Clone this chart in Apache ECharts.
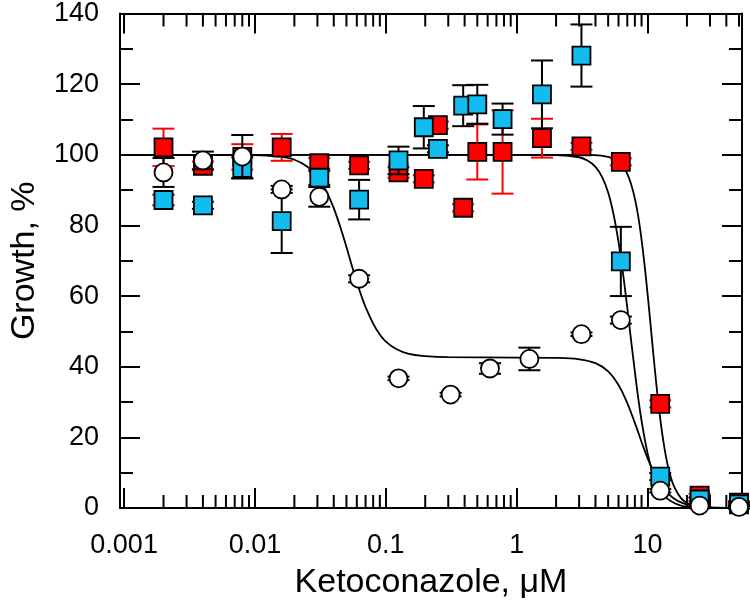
<!DOCTYPE html>
<html>
<head>
<meta charset="utf-8">
<script src="https://cdn.jsdelivr.net/npm/echarts@6/dist/echarts.min.js"></script>
<style>html,body{margin:0;padding:0;background:#fff}#c{width:750px;height:605px}</style>
</head>
<body>
<div id="c"></div>
<script>
// ---- data ----
var xTickLabels = ['0.001', '0.01', '0.1', '1', '10'];
var yTickLabels = ['0', '20', '40', '60', '80', '100', '120', '140'];
var minorXTicks = [0.002,0.003,0.004,0.005,0.006,0.007,0.008,0.009,
                   0.02,0.03,0.04,0.05,0.06,0.07,0.08,0.09,
                   0.2,0.3,0.4,0.5,0.6,0.7,0.8,0.9,
                   2,3,4,5,6,7,8,9,
                   20,30,40,50];

var redX   = [0.002, 0.004, 0.008, 0.016, 0.031, 0.0625, 0.125, 0.195, 0.25, 0.39, 0.5, 0.78, 1.56, 3.125, 6.25, 12.5, 25, 50];
var redY   = [102.1, 96.9, 99.4, 102.1, 97.6, 97, 95, 93.2, 108.4, 85, 100.8, 100.8, 104.7, 102.4, 98, 29.5, 3.5, 1.5];
var redErr = [5.3, 1.2, 3.6, 3.8, 1.5, 1, 1.5, 1, 1, 1, 7.8, 11.8, 5.5, 1, 1, 1, 0.5, 0.5];

var blueX   = [0.002, 0.004, 0.008, 0.016, 0.031, 0.0625, 0.125, 0.195, 0.25, 0.39, 0.5, 0.78, 1.56, 3.125, 6.25, 12.5, 25, 50];
var blueY   = [87.2, 85.7, 96.3, 81.2, 93.5, 87.3, 98.4, 107.8, 101.7, 113.9, 114.3, 110.1, 117.1, 128.1, 69.8, 8.9, 2.4, 1.0];
var blueErr = [1.5, 1, 3, 9, 2, 5.6, 3.9, 6, 1, 5.8, 5.5, 4.4, 9.6, 8.8, 9.8, 1, 0.5, 0.5];

var circX   = [0.002, 0.004, 0.008, 0.016, 0.031, 0.0625, 0.125, 0.3125, 0.625, 1.25, 3.125, 6.25, 12.5, 25, 50];
var circY   = [95, 98.4, 99.5, 90.2, 88.1, 64.9, 36.7, 32.1, 39.5, 42.2, 49.2, 53.2, 4.9, 0.7, 0.3];
var circErr = [4.1, 2.5, 6.1, 1, 2.8, 1, 0.5, 0.5, 1.5, 3.2, 0.5, 1, 0.5, 0.5, 0.5];

// fitted curves
var redFitX = [0.00093, 0.01, 0.1, 1, 3, 4, 5, 5.5, 6, 6.5, 7, 7.5, 8, 8.5, 9, 9.5, 10, 10.5, 11, 11.5, 12, 12.5, 13, 14, 15, 16, 18, 20, 23, 27, 35, 52.7];
var redFitY = [100, 100, 100, 100, 100, 99.9, 99.4, 98.9, 98.0, 96.7, 94.6, 91.6, 87.6, 82.4, 76.0, 68.6, 60.7, 52.6, 44.7, 37.4, 30.9, 25.3, 20.6, 13.5, 8.9, 6.0, 2.8, 1.4, 0.5, 0.2, 0, 0];

var blueFitX = [0.00093, 0.01, 0.1, 1, 2, 3, 3.5, 4, 4.5, 5, 5.5, 6, 6.5, 7, 7.5, 8, 8.5, 9, 10, 11, 12, 13, 14, 16, 18, 21, 25, 30, 52.7];
var blueFitY = [100, 100, 100, 100, 99.9, 99.3, 98.3, 96.6, 93.7, 89.3, 83.1, 75.3, 66.3, 56.7, 47.2, 38.6, 31.0, 24.7, 15.5, 9.8, 6.3, 4.2, 2.8, 1.4, 0.7, 0.3, 0.1, 0, 0];

var circFitX = [0.00093, 0.01, 0.015, 0.02, 0.025, 0.03, 0.035, 0.04, 0.045, 0.05, 0.055, 0.06, 0.065, 0.07, 0.08, 0.09, 0.1, 0.12, 0.15, 0.2, 0.3, 1, 2, 3, 4, 5, 6, 7, 8, 9, 10, 11, 12, 13, 14, 16, 18, 21, 25, 30, 40, 52.7];
var circFitY = [100, 99.9, 99.5, 98.6, 96.7, 93.9, 89.8, 84.9, 79.4, 73.9, 68.6, 64.0, 60.1, 56.9, 52.2, 49.1, 47.1, 45.0, 43.6, 43.0, 42.7, 42.6, 42.5, 42.1, 41.0, 38.7, 34.8, 29.7, 24.1, 18.7, 14.1, 10.6, 7.9, 5.9, 4.5, 2.6, 1.6, 0.85, 0.4, 0.2, 0.05, 0];

// ---- helpers ----
function zip2(a, b) { return a.map(function (v, i) { return [v, b[i]]; }); }
function zip3(a, b, c) { return a.map(function (v, i) { return [v, b[i], c[i]]; }); }

var FONT = 'Liberation Sans, Arial, Helvetica, sans-serif';
var XMIN = 0.00093, XMAX = 52.7, YMIN = 0, YMAX = 140;

function errRender(color) {
  return function (params, api) {
    var x = api.value(0), y = api.value(1), e = api.value(2);
    var top = api.coord([x, y + e]);
    var bot = api.coord([x, y - e]);
    var hw = 11;
    var st = { stroke: color, lineWidth: 2 };
    return {
      type: 'group',
      children: [
        { type: 'line', shape: { x1: top[0], y1: top[1], x2: bot[0], y2: bot[1] }, style: st },
        { type: 'line', shape: { x1: top[0] - hw, y1: top[1], x2: top[0] + hw, y2: top[1] }, style: st },
        { type: 'line', shape: { x1: bot[0] - hw, y1: bot[1], x2: bot[0] + hw, y2: bot[1] }, style: st }
      ]
    };
  };
}

function minorRender(params, api) {
  var v = api.value(0);
  var b = api.coord([v, YMIN]);
  var t = api.coord([v, YMAX]);
  var st = { stroke: '#000', lineWidth: 2 };
  return {
    type: 'group',
    children: [
      { type: 'line', shape: { x1: b[0], y1: b[1], x2: b[0], y2: b[1] - 13 }, style: st },
      { type: 'line', shape: { x1: t[0], y1: t[1], x2: t[0], y2: t[1] + 13 }, style: st }
    ]
  };
}

function xLabelFmt(v) {
  var s = String(+Number(v).toPrecision(3));
  return xTickLabels.indexOf(s) >= 0 ? s : '';
}

var axisLineStyle = { color: '#000', width: 2 };
var fitLine = { color: '#000', width: 1.8 };

var chart = echarts.init(document.getElementById('c'), null, { renderer: 'canvas' });
chart.setOption({
  animation: false,
  backgroundColor: '#fff',
  textStyle: { fontFamily: FONT },
  grid: { left: 109, right: 8, top: 12, bottom: 95, containLabel: false },
  xAxis: [
    {
      type: 'log', logBase: 10, min: XMIN, max: XMAX, position: 'bottom',
      axisLine: { show: true, onZero: false, lineStyle: axisLineStyle },
      axisTick: { show: true, inside: true, length: 20, lineStyle: { color: '#000', width: 2 } },
      axisLabel: { show: true, fontSize: 27, color: '#000', fontFamily: FONT, margin: 24,
                   showMinLabel: false, showMaxLabel: false, formatter: xLabelFmt },
      splitLine: { show: false },
      name: 'Ketoconazole, μM', nameLocation: 'middle', nameGap: 58,
      nameTextStyle: { fontSize: 34, color: '#000', fontFamily: FONT }
    },
    {
      type: 'log', logBase: 10, min: XMIN, max: XMAX, position: 'top',
      axisLine: { show: true, onZero: false, lineStyle: axisLineStyle },
      axisTick: { show: true, inside: true, length: 20, lineStyle: { color: '#000', width: 2 } },
      axisLabel: { show: false },
      splitLine: { show: false }
    }
  ],
  yAxis: [
    {
      type: 'value', min: YMIN, max: YMAX, interval: 20, position: 'left',
      axisLine: { show: true, onZero: false, lineStyle: axisLineStyle },
      axisTick: { show: true, inside: true, length: 20, lineStyle: { color: '#000', width: 2 } },
      minorTick: { show: true, splitNumber: 2, length: 13, lineStyle: { color: '#000', width: 2 } },
      axisLabel: { show: true, fontSize: 27, color: '#000', fontFamily: FONT, margin: 21,
                   formatter: function (v) { var s = String(v); return yTickLabels.indexOf(s) >= 0 ? s : ''; } },
      splitLine: { show: false },
      name: 'Growth, %', nameLocation: 'middle', nameGap: 78, nameRotate: 90,
      nameTextStyle: { fontSize: 34, color: '#000', fontFamily: FONT }
    },
    {
      type: 'value', min: YMIN, max: YMAX, interval: 20, position: 'right',
      axisLine: { show: true, onZero: false, lineStyle: axisLineStyle },
      axisTick: { show: true, inside: true, length: 20, lineStyle: { color: '#000', width: 2 } },
      minorTick: { show: true, splitNumber: 2, length: 13, lineStyle: { color: '#000', width: 2 } },
      axisLabel: { show: false },
      splitLine: { show: false }
    }
  ],
  series: [
    { type: 'custom', name: 'minorTicks', renderItem: minorRender, data: minorXTicks.map(function (v) { return [v, 0]; }),
      encode: { x: 0, y: 1 }, silent: true, z: 1 },
    { type: 'line', name: 'fitRed', data: zip2(redFitX, redFitY), showSymbol: false, symbol: 'none',
      smooth: 0.4, lineStyle: fitLine, z: 2 },
    { type: 'line', name: 'fitBlue', data: zip2(blueFitX, blueFitY), showSymbol: false, symbol: 'none',
      smooth: 0.4, lineStyle: fitLine, z: 2 },
    { type: 'line', name: 'fitCirc', data: zip2(circFitX, circFitY), showSymbol: false, symbol: 'none',
      smooth: 0.4, lineStyle: fitLine, z: 2 },
    { type: 'custom', name: 'redErr', renderItem: errRender('#FF0000'), data: zip3(redX, redY, redErr),
      encode: { x: 0, y: 1 }, z: 3 },
    { type: 'scatter', name: 'red', data: zip2(redX, redY), symbol: 'rect', symbolSize: 18,
      itemStyle: { color: '#FF0000', borderColor: '#000', borderWidth: 1.8, opacity: 1 }, z: 3 },
    { type: 'custom', name: 'blueErr', renderItem: errRender('#000'), data: zip3(blueX, blueY, blueErr),
      encode: { x: 0, y: 1 }, z: 4 },
    { type: 'scatter', name: 'blue', data: zip2(blueX, blueY), symbol: 'rect', symbolSize: 18,
      itemStyle: { color: '#12BCEF', borderColor: '#000', borderWidth: 1.8, opacity: 1 }, z: 4 },
    { type: 'custom', name: 'circErr', renderItem: errRender('#000'), data: zip3(circX, circY, circErr),
      encode: { x: 0, y: 1 }, z: 5 },
    { type: 'scatter', name: 'circ', data: zip2(circX, circY), symbol: 'circle', symbolSize: 18,
      itemStyle: { color: '#FFFFFF', borderColor: '#000', borderWidth: 1.8, opacity: 1 }, z: 5 }
  ]
});
</script>
</body>
</html>
